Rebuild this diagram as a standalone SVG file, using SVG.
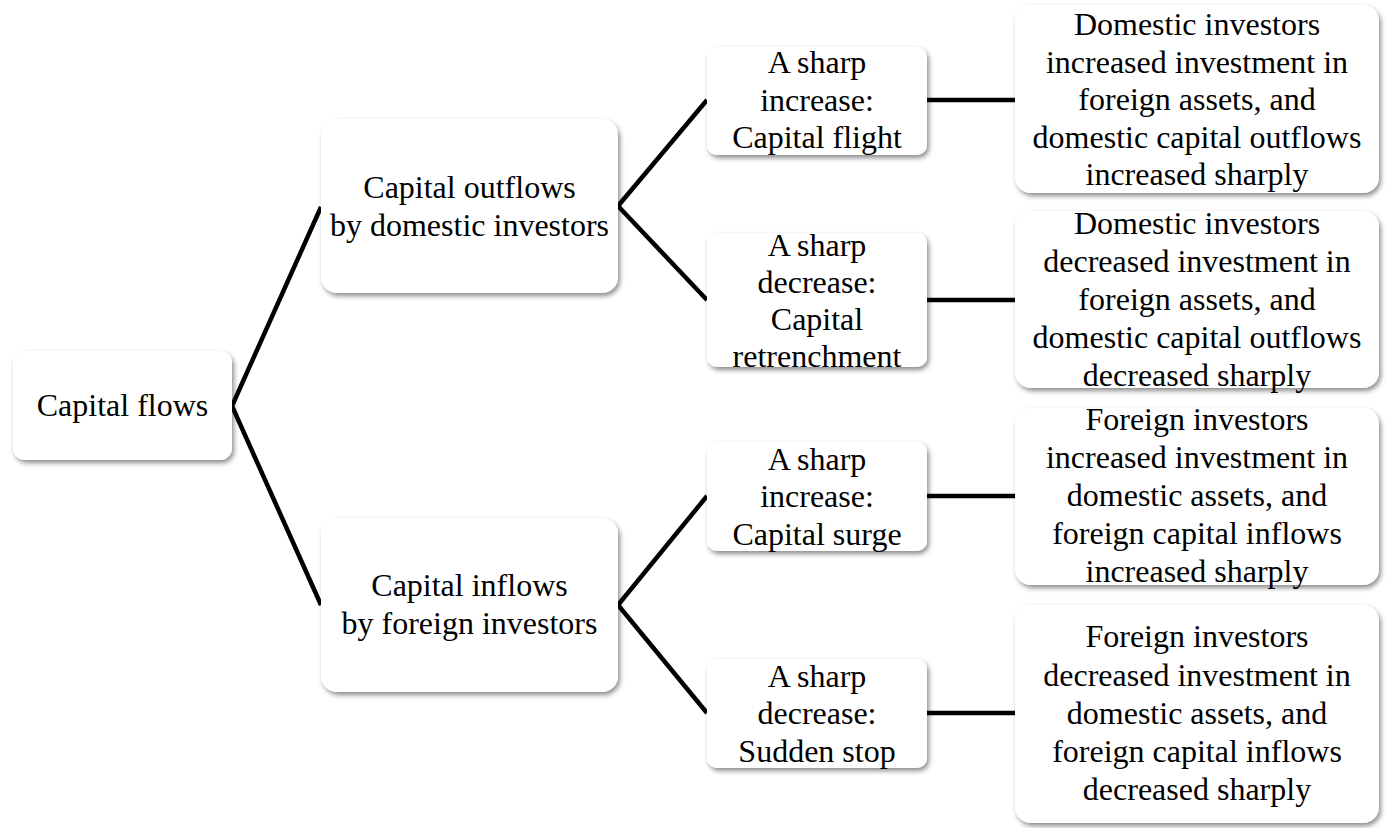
<svg xmlns="http://www.w3.org/2000/svg" width="1388" height="828" viewBox="0 0 1388 828">
<style>
.box{fill:#fff;filter:url(#sh)}
.t{font-family:'Liberation Serif',serif;font-size:32px;fill:#000;text-anchor:middle}
.c{stroke:#000;stroke-width:4.5;fill:none;stroke-linejoin:miter}
</style>
<defs>
<filter id="sh" x="-10%" y="-10%" width="125%" height="130%">
<feDropShadow dx="2" dy="3" stdDeviation="2.5" flood-color="#000" flood-opacity="0.45"/>
</filter>
</defs>
<rect width="1388" height="828" fill="#fff"/>
<g id="connectors">
<polyline class="c" points="321,207 232,406 321,605"/>
<polyline class="c" points="707,100 618,206 707,300"/>
<polyline class="c" points="707,496 618,605 707,713"/>
<line class="c" x1="927" y1="100" x2="1015" y2="100"/>
<line class="c" x1="927" y1="300" x2="1015" y2="300"/>
<line class="c" x1="927" y1="496" x2="1015" y2="496"/>
<line class="c" x1="927" y1="713" x2="1015" y2="713"/>
</g>
<g id="root">
<rect class="box" x="13" y="351" width="219" height="109" rx="12"/>
<text class="t" x="122.5" y="416">Capital flows</text>
</g>
<g id="outflows">
<rect class="box" x="321" y="119" width="297" height="174" rx="16"/>
<text class="t" x="469.5" y="198">Capital outflows</text>
<text class="t" x="469.5" y="236">by domestic investors</text>
</g>
<g id="inflows">
<rect class="box" x="321" y="518" width="297" height="174" rx="16"/>
<text class="t" x="469.5" y="596">Capital inflows</text>
<text class="t" x="469.5" y="634">by foreign investors</text>
</g>
<g id="flight">
<rect class="box" x="707" y="47" width="220" height="108" rx="10"/>
<text class="t" x="817" y="73">A sharp</text>
<text class="t" x="817" y="111">increase:</text>
<text class="t" x="817" y="148">Capital flight</text>
</g>
<g id="retrenchment">
<rect class="box" x="707" y="233" width="220" height="134" rx="10"/>
<text class="t" x="817" y="256">A sharp</text>
<text class="t" x="817" y="293">decrease:</text>
<text class="t" x="817" y="330">Capital</text>
<text class="t" x="817" y="367">retrenchment</text>
</g>
<g id="surge">
<rect class="box" x="707" y="442" width="220" height="109" rx="10"/>
<text class="t" x="817" y="470">A sharp</text>
<text class="t" x="817" y="507">increase:</text>
<text class="t" x="817" y="545">Capital surge</text>
</g>
<g id="stop">
<rect class="box" x="707" y="659" width="220" height="109" rx="10"/>
<text class="t" x="817" y="687">A sharp</text>
<text class="t" x="817" y="724">decrease:</text>
<text class="t" x="817" y="762">Sudden stop</text>
</g>
<g id="desc1">
<rect class="box" x="1015" y="5" width="364" height="188" rx="16"/>
<text class="t" x="1197" y="35">Domestic investors</text>
<text class="t" x="1197" y="72.5">increased investment in</text>
<text class="t" x="1197" y="110">foreign assets, and</text>
<text class="t" x="1197" y="147.5">domestic capital outflows</text>
<text class="t" x="1197" y="185">increased sharply</text>
</g>
<g id="desc2">
<rect class="box" x="1015" y="211" width="364" height="177" rx="16"/>
<text class="t" x="1197" y="234">Domestic investors</text>
<text class="t" x="1197" y="272">decreased investment in</text>
<text class="t" x="1197" y="310">foreign assets, and</text>
<text class="t" x="1197" y="348">domestic capital outflows</text>
<text class="t" x="1197" y="386">decreased sharply</text>
</g>
<g id="desc3">
<rect class="box" x="1015" y="408" width="364" height="177" rx="16"/>
<text class="t" x="1197" y="430">Foreign investors</text>
<text class="t" x="1197" y="468">increased investment in</text>
<text class="t" x="1197" y="506">domestic assets, and</text>
<text class="t" x="1197" y="544">foreign capital inflows</text>
<text class="t" x="1197" y="582">increased sharply</text>
</g>
<g id="desc4">
<rect class="box" x="1015" y="605" width="364" height="218" rx="16"/>
<text class="t" x="1197" y="647">Foreign investors</text>
<text class="t" x="1197" y="686">decreased investment in</text>
<text class="t" x="1197" y="724">domestic assets, and</text>
<text class="t" x="1197" y="762">foreign capital inflows</text>
<text class="t" x="1197" y="800">decreased sharply</text>
</g>
</svg>
